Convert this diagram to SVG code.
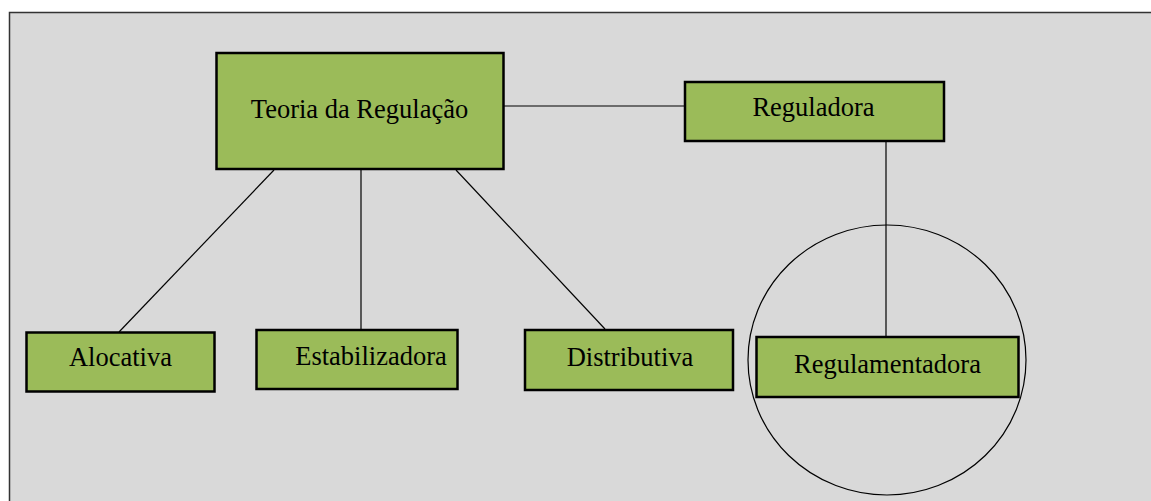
<svg xmlns="http://www.w3.org/2000/svg" width="1151" height="501" viewBox="0 0 1151 501">
<style>
.box{fill:#9bbb59;stroke:#000;stroke-width:2.5}
.lbl{font-family:"Liberation Serif","Times New Roman",serif;font-size:26.5px;fill:#000;text-anchor:middle}
.con{stroke:#000;stroke-width:1.2;fill:none}
</style>
<rect x="0" y="0" width="1151" height="501" fill="#fff"/>
<rect x="9.5" y="12.5" width="1150" height="500" fill="#d9d9d9" stroke="#333" stroke-width="1.5"/>
<g id="connectors">
<line class="con" x1="504" y1="106" x2="684" y2="106"/>
<line class="con" x1="886" y1="141" x2="886" y2="337"/>
<line class="con" x1="274" y1="170" x2="119" y2="332"/>
<line class="con" x1="361" y1="170" x2="361" y2="330"/>
<line class="con" x1="456" y1="170" x2="605" y2="329"/>
<ellipse class="con" cx="887" cy="360" rx="139" ry="135"/>
</g>
<g id="teoria"><rect class="box" x="216.5" y="53" width="287" height="116"/><text class="lbl" x="359.5" y="118">Teoria da Regulação</text></g>
<g id="reguladora"><rect class="box" x="685" y="82" width="259" height="59"/><text class="lbl" x="813.5" y="116">Reguladora</text></g>
<g id="alocativa"><rect class="box" x="26.5" y="332.5" width="188" height="59"/><text class="lbl" x="120.5" y="366">Alocativa</text></g>
<g id="estabilizadora"><rect class="box" x="256.5" y="330" width="201" height="59"/><text class="lbl" x="371" y="365">Estabilizadora</text></g>
<g id="distributiva"><rect class="box" x="525" y="330" width="208" height="60"/><text class="lbl" x="630" y="366">Distributiva</text></g>
<g id="regulamentadora"><rect class="box" x="756.5" y="337" width="262" height="60"/><text class="lbl" x="887.5" y="372.5">Regulamentadora</text></g>
</svg>
